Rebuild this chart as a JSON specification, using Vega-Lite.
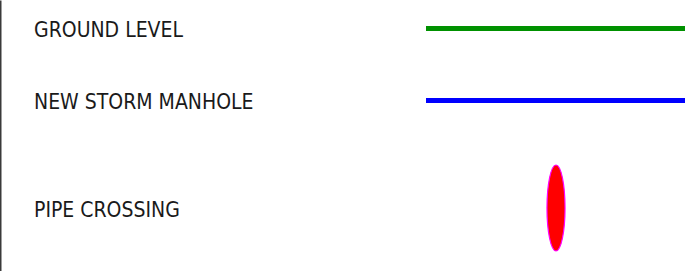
{
  "$schema": "https://vega.github.io/schema/vega-lite/v6.json",
  "width": 699,
  "height": 271,
  "autosize": {"type": "fit", "contains": "padding"},
  "padding": 0,
  "background": "white",
  "config": {"view": {"stroke": null}},
  "data": {
    "values": [
      {"label": "GROUND LEVEL", "y": 28.5, "kind": "line"},
      {"label": "NEW STORM MANHOLE", "y": 100.5, "kind": "line"},
      {"label": "PIPE CROSSING", "y": 208, "kind": "crossing"}
    ]
  },
  "encoding": {
    "y": {
      "field": "y",
      "type": "quantitative",
      "scale": {"domain": [0, 271], "reverse": true, "nice": false, "zero": false},
      "axis": {"title": null, "labels": false, "ticks": false, "grid": false, "domain": true, "domainColor": "#3a3a3a", "domainWidth": 2}
    }
  },
  "layer": [
    {
      "mark": {"type": "text", "align": "left", "baseline": "alphabetic", "dy": 8.5, "font": "DejaVu Sans Condensed", "fontSize": 21, "color": "#1a1a1a"},
      "encoding": {
        "x": {"datum": 34, "type": "quantitative", "scale": {"domain": [0, 699], "nice": false, "zero": false}, "axis": null},
        "text": {"field": "label"}
      }
    },
    {
      "transform": [{"filter": "datum.kind === 'line'"}],
      "mark": {"type": "rule", "strokeWidth": 5},
      "encoding": {
        "x": {"datum": 426, "type": "quantitative"},
        "x2": {"datum": 685},
        "color": {"field": "label", "type": "nominal", "scale": {"domain": ["GROUND LEVEL", "NEW STORM MANHOLE"], "range": ["#009100", "#0000ff"]}, "legend": null}
      }
    },
    {
      "transform": [{"filter": "datum.kind === 'crossing'"}],
      "mark": {"type": "point", "filled": true, "fill": "#ff0000", "stroke": "#ff00ff", "strokeWidth": 1.2, "opacity": 1, "shape": "M0,-1A0.21,1,0,1,1,0,1A0.21,1,0,1,1,0,-1Z", "size": 7396},
      "encoding": {
        "x": {"datum": 556, "type": "quantitative"}
      }
    }
  ]
}
